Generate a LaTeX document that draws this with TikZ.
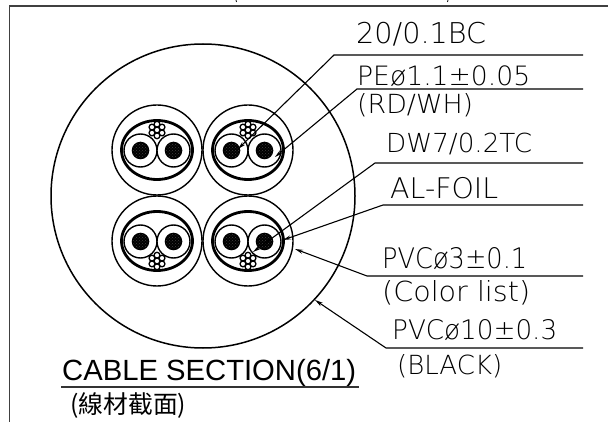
\documentclass[tikz,border=0pt]{standalone}
\usepackage{fontspec}
\usetikzlibrary{arrows.meta,patterns}
\setmainfont{Liberation Sans}
\newfontfamily\cad{DejaVu Sans ExtraLight}
\newfontfamily\cjk{Noto Sans CJK TC}
\tikzset{
  leader/.style={draw=black,line width=1.1pt},
  tip/.style={leader,{Stealth[length=8pt,width=4pt]}-},
  framed/.style={draw=black!75,line width=1.3pt},
  lbl/.style={inner sep=0pt,anchor=base west,text=black},
}
\newcommand{\fit}[2]{\resizebox{#1pt}{!}{\cad\fontsize{24}{24}\selectfont #2}}
\newcommand{\fitt}[3]{\resizebox{#1pt}{#2pt}{\cad\fontsize{24}{24}\selectfont #3}}
\newcommand{\pair}[3]{%
  \begin{scope}[shift={(#1,#2)}]
    \draw[line width=1.4pt] (0,0) circle[radius=45];
    \draw[line width=2.8pt,fill=white] (0,0) ellipse[x radius=35.5,y radius=29.5];
    \foreach \dx in {-16.5,16.5}{
      \draw[line width=1.4pt,fill=white] (\dx,0.5) circle[radius=16.5];
      \fill[black] (\dx,0.5) circle[radius=8.8];
      \fill[pattern=crosshatch dots,pattern color=white!25!black] (\dx,0.5) circle[radius=7.5];
    }
    \begin{scope}[shift={(0,#3*20)}]
      \foreach \a in {30,90,...,330}{
        \draw[line width=1.3pt,fill=white] (\a:5.8) circle[radius=2.9];
      }
      \draw[line width=1.3pt,fill=white] (0,0) circle[radius=2.9];
    \end{scope}
  \end{scope}}
\begin{document}
\begin{tikzpicture}[x=1pt,y=-1pt]
\useasboundingbox (0,0) rectangle (608,422);
\draw[framed] (608,6) -- (9.5,6) -- (9.5,422);
\draw[line width=0.8pt] (236,0) -- (236.5,2) (448,0) -- (447.5,2);

\draw[line width=1.5pt] (203,196) circle[radius=152];
\pair{157}{150}{-1}
\pair{248}{150}{-1}
\pair{157}{241}{1}
\pair{248}{241}{1}

\coordinate (a1) at (238,149); \coordinate (b1) at (334,55); \coordinate (c1) at (583,55);
\coordinate (a2) at (275,157); \coordinate (b2) at (357,89); \coordinate (c2) at (583,89);
\coordinate (a3) at (253,252); \coordinate (b3) at (375,163); \coordinate (c3) at (583,163);
\coordinate (a4) at (283,240); \coordinate (b4) at (383,205); \coordinate (c4) at (583,205);
\coordinate (a5) at (295,249); \coordinate (b5) at (367,276); \coordinate (c5) at (583,276);
\coordinate (a6) at (315,300); \coordinate (b6) at (386,348); \coordinate (c6) at (583,348);
\foreach \i in {1,...,6}{ \draw[tip] (a\i) -- (b\i) -- (c\i); }

\node[lbl] (t1) at (356,44) {\fit{130}{20/0.1BC}};
\node[lbl] (t2) at (357,86) {\fit{173}{PEø1.1±0.05}};
\node[lbl] (t3) at (357,114) {\fitt{116}{20}{(RD/WH)}};
\node[lbl] (t4) at (386,153) {\fit{146}{DW7/0.2TC}};
\node[lbl] (t5) at (390,199) {\fit{108}{AL-FOIL}};
\node[lbl] (t6) at (382,269) {\fitt{145}{21}{PVCø3±0.1}};
\node[lbl] (t7) at (382,301) {\fitt{148}{21}{(Color list)}};
\node[lbl] (t8) at (392,339) {\fitt{165}{20}{PVCø10±0.3}};
\node[lbl] (t9) at (397,374) {\fitt{105}{20}{(BLACK)}};

\node[lbl] (title) at (62,380) {\resizebox{294pt}{!}{\fontsize{29}{29}\selectfont CABLE SECTION(6/1)}};
\coordinate (u1) at (61,387); \coordinate (u2) at (359,387);
\draw[line width=1.2pt,draw=black!80] (u1) -- (u2);
\node[lbl] (sub) at (70,413) {\resizebox{116pt}{!}{\cjk\fontsize{24}{24}\selectfont (線材截面)}};
\end{tikzpicture}
\end{document}
